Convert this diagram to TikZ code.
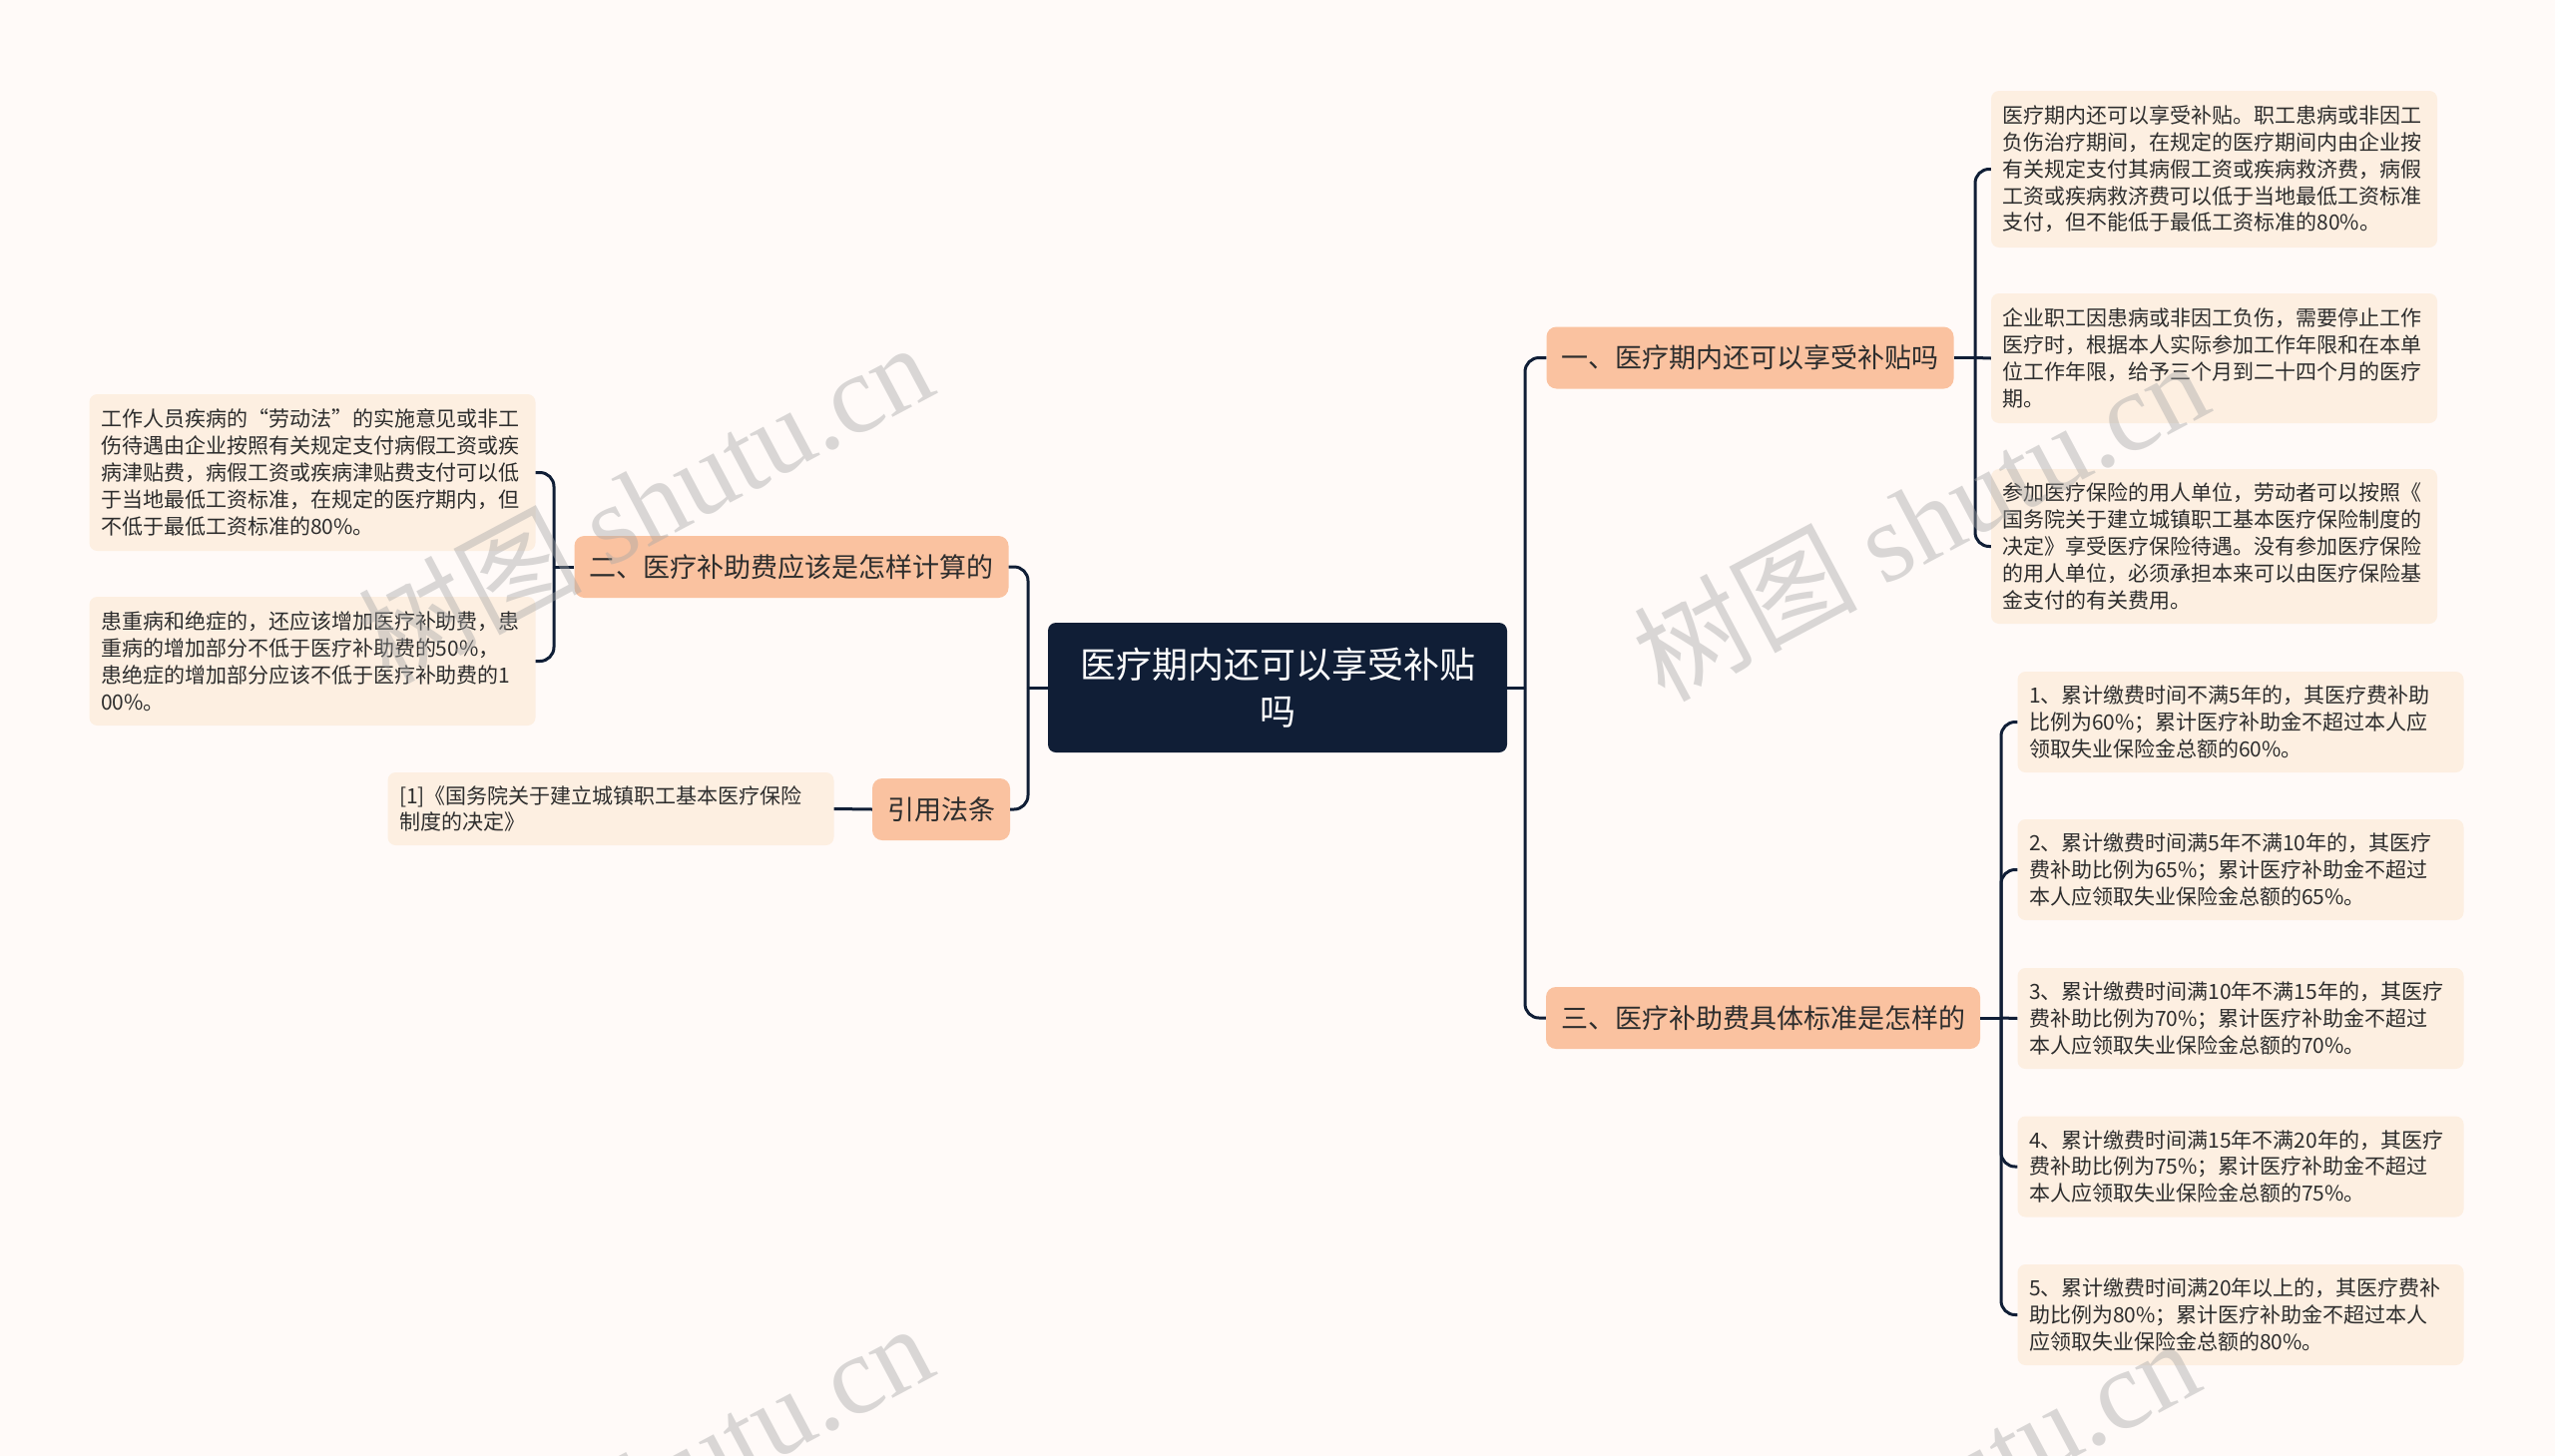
\documentclass[tikz,border=0pt]{standalone}
\usepackage{fontspec}
\setmainfont{Noto Sans CJK SC}
\newfontfamily\wmlatin{Liberation Serif}
\definecolor{bgc}{RGB}{255,250,248}
\definecolor{leafc}{RGB}{253,239,225}
\definecolor{brc}{RGB}{250,194,160}
\definecolor{rootc}{RGB}{16,30,54}
\definecolor{linec}{RGB}{16,30,54}
\definecolor{txtc}{RGB}{45,45,45}
\tikzset{
  leafbox/.style={fill=leafc, rounded corners=8pt, text width=424pt, align=left,
    inner xsep=11.5pt, inner ysep=0pt, text=txtc, font=\fontsize{21}{26.8}\selectfont},
  brbox/.style={fill=brc, rounded corners=10pt, inner xsep=15pt, inner ysep=0pt,
    minimum height=62pt, text=txtc, font=\fontsize{27}{32}\selectfont},
  rootbox/.style={fill=rootc, rounded corners=8pt, text=white, align=center,
    minimum width=460pt, minimum height=130pt, font=\fontsize{36}{47}\selectfont},
  conn/.style={draw=linec, line width=3pt, rounded corners=14pt},
  wmark/.style={text=gray!70, opacity=0.42, rotate=28, font=\fontsize{112}{112}\selectfont}
}
\begin{document}
\begin{tikzpicture}[x=1pt,y=-1pt]
\useasboundingbox (0,0) rectangle (2560,1459);
\fill[bgc] (0,0) rectangle (2560,1459);

% root
\node[rootbox] (root) at (1280,689) {医疗期内还可以享受补贴\\吗};

% branches
\node[brbox] (b1) at (1753.5,358.5) {一、医疗期内还可以享受补贴吗};
\node[brbox] (b3) at (1766.5,1020) {三、医疗补助费具体标准是怎样的};
\node[brbox] (b2) at (793,568) {二、医疗补助费应该是怎样计算的};
\node[brbox] (b4) at (943,811) {引用法条};

% right leaves of b1
\node[leafbox, minimum height=157pt] (l1a) at (2218.5,169.5) {医疗期内还可以享受补贴。职工患病或非因工\\负伤治疗期间，在规定的医疗期间内由企业按\\有关规定支付其病假工资或疾病救济费，病假\\工资或疾病救济费可以低于当地最低工资标准\\支付，但不能低于最低工资标准的80\%。};
\node[leafbox, minimum height=130pt] (l1b) at (2218.5,359) {企业职工因患病或非因工负伤，需要停止工作\\医疗时，根据本人实际参加工作年限和在本单\\位工作年限，给予三个月到二十四个月的医疗\\期。};
\node[leafbox, minimum height=155pt] (l1c) at (2218.5,547.5) {参加医疗保险的用人单位，劳动者可以按照《\\国务院关于建立城镇职工基本医疗保险制度的\\决定》享受医疗保险待遇。没有参加医疗保险\\的用人单位，必须承担本来可以由医疗保险基\\金支付的有关费用。};

% right leaves of b3
\node[leafbox, minimum height=101pt] (l31) at (2245,723.5) {1、累计缴费时间不满5年的，其医疗费补助\\比例为60\%；累计医疗补助金不超过本人应\\领取失业保险金总额的60\%。};
\node[leafbox, minimum height=101pt] (l32) at (2245,871.5) {2、累计缴费时间满5年不满10年的，其医疗\\费补助比例为65\%；累计医疗补助金不超过\\本人应领取失业保险金总额的65\%。};
\node[leafbox, minimum height=101pt] (l33) at (2245,1020.5) {3、累计缴费时间满10年不满15年的，其医疗\\费补助比例为70\%；累计医疗补助金不超过\\本人应领取失业保险金总额的70\%。};
\node[leafbox, minimum height=101pt] (l34) at (2245,1169) {4、累计缴费时间满15年不满20年的，其医疗\\费补助比例为75\%；累计医疗补助金不超过\\本人应领取失业保险金总额的75\%。};
\node[leafbox, minimum height=101pt] (l35) at (2245,1317.5) {5、累计缴费时间满20年以上的，其医疗费补\\助比例为80\%；累计医疗补助金不超过本人\\应领取失业保险金总额的80\%。};

% left leaves
\node[leafbox, minimum height=157pt] (ll1) at (313,473.5) {工作人员疾病的“劳动法”的实施意见或非工\\伤待遇由企业按照有关规定支付病假工资或疾\\病津贴费，病假工资或疾病津贴费支付可以低\\于当地最低工资标准，在规定的医疗期内，但\\不低于最低工资标准的80\%。};
\node[leafbox, minimum height=129pt] (ll2) at (313,662.5) {患重病和绝症的，还应该增加医疗补助费，患\\重病的增加部分不低于医疗补助费的50\%，\\患绝症的增加部分应该不低于医疗补助费的1\\00\%。};
\node[leafbox, minimum height=73pt] (lr) at (612,810.5) {[1]《国务院关于建立城镇职工基本医疗保险\\制度的决定》};

% spine coordinates
\coordinate (sR) at (1528,689);
\coordinate (sL) at (1030,689);
\coordinate (s1) at (1979,358.5);
\coordinate (s3) at (2005,1020);
\coordinate (s2) at (555,568);

% connectors root
\draw[conn] (root.east) -- (sR);
\draw[conn] (sR) |- (b1.west);
\draw[conn] (sR) |- (b3.west);
\draw[conn] (root.west) -- (sL);
\draw[conn] (sL) |- (b2.east);
\draw[conn] (sL) |- (b4.east);

% b1 leaves
\draw[conn] (b1.east) -- (s1);
\draw[conn] (s1) |- (l1a.west);
\draw[conn] (s1) -- (l1b.west);
\draw[conn] (s1) |- (l1c.west);

% b3 leaves
\draw[conn] (b3.east) -- (s3);
\draw[conn] (s3) |- (l31.west);
\draw[conn] (s3) |- (l32.west);
\draw[conn] (s3) -- (l33.west);
\draw[conn] (s3) |- (l34.west);
\draw[conn] (s3) |- (l35.west);

% b2 leaves
\draw[conn] (b2.west) -- (s2);
\draw[conn] (s2) |- (ll1.east);
\draw[conn] (s2) |- (ll2.east);

% ref
\draw[conn] (b4.west) -- (lr.east);

% watermarks
\begin{scope}
\clip (0,0) rectangle (2560,1459);
\node[wmark] (wm1) at (646,502) {树图 {\wmlatin shutu.cn}};
\node[wmark] (wm2) at (1924,520) {树图 {\wmlatin shutu.cn}};
\node[wmark] (wm3) at (646,1485) {树图 {\wmlatin shutu.cn}};
\node[wmark] (wm4) at (1915,1500) {树图 {\wmlatin shutu.cn}};
\end{scope}
\end{tikzpicture}
\end{document}
